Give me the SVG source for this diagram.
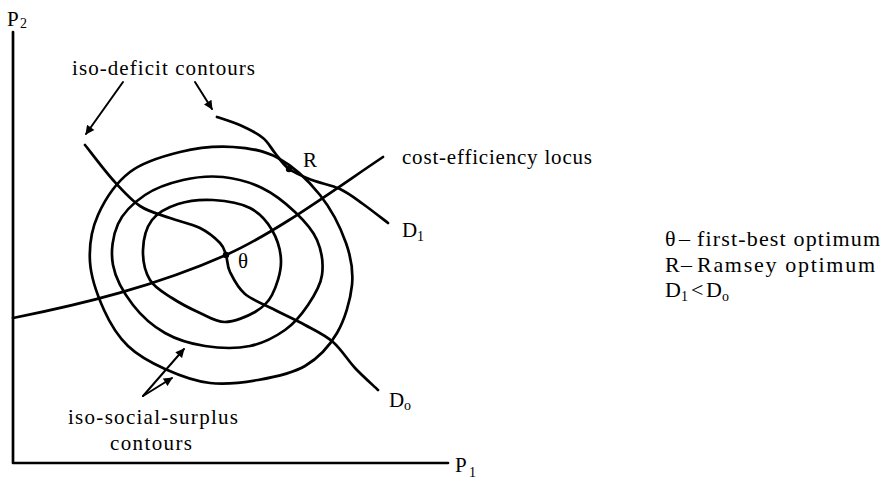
<svg xmlns="http://www.w3.org/2000/svg" width="887" height="485" viewBox="0 0 887 485">
<style>
.ln{fill:none;stroke:#000;stroke-width:2.7;stroke-linecap:round;stroke-linejoin:round}
.ar{fill:none;stroke:#000;stroke-width:2;stroke-linecap:round}
text{font-family:"Liberation Serif","Times New Roman",serif;font-size:21px;fill:#000}
.sub{font-size:14px}
.lg{font-size:22px}
</style>
<defs>
<marker id="ah" viewBox="0 0 10 10" refX="9" refY="5" markerWidth="10" markerHeight="9" markerUnits="userSpaceOnUse" orient="auto">
<path d="M0,0 L10,5 L0,10 Z" fill="#000"/>
</marker>
</defs>
<rect width="887" height="485" fill="#fff"/>
<g id="axes">
<path class="ln" d="M13,32 V463 H448"/>
<text x="7" y="26">P</text><text class="sub" x="20" y="28">2</text>
<text x="455" y="472">P</text><text class="sub" x="469" y="477">1</text>
</g>
<g id="social-surplus-contours">
<path id="outer" class="ln" d="M233,147 C249.3,148 263.5,150 278,158 C292.5,166 308.7,180.8 320,195 C331.3,209.2 340.7,228 346,243 C351.3,258 353.5,270 352,285 C350.5,300 344.8,319.5 337,333 C329.2,346.5 318.2,358.2 305,366 C291.8,373.8 273.8,377.2 258,380 C242.2,382.8 225.5,384.8 210,383 C194.5,381.2 178.7,375.2 165,369 C151.3,362.8 138.2,355.8 128,346 C117.8,336.2 110.3,324 104,310 C97.7,296 91,277.8 90,262 C89,246.2 91.3,230 98,215 C104.7,200 116.3,182.5 130,172 C143.7,161.5 162.8,156.2 180,152 C197.2,147.8 216.7,146 233,147 Z"/>
<path id="middle" class="ln" d="M223,177 C236.2,178.3 250,182.2 262,188 C274,193.8 285.8,203.3 295,212 C304.2,220.7 312.5,229.5 317,240 C321.5,250.5 323.5,264.2 322,275 C320.5,285.8 314.2,295.8 308,305 C301.8,314.2 294.7,323.2 285,330 C275.3,336.8 263.3,343.3 250,346 C236.7,348.7 219.2,348.2 205,346 C190.8,343.8 177,339.8 165,333 C153,326.2 141.7,316.3 133,305 C124.3,293.7 115.5,278.5 113,265 C110.5,251.5 112.7,235.7 118,224 C123.3,212.3 134.2,202.3 145,195 C155.8,187.7 170,183 183,180 C196,177 209.8,175.7 223,177 Z"/>
<path id="inner" class="ln" d="M213,200 C225,200.7 240.2,203 250,208 C259.8,213 266.8,221 272,230 C277.2,239 281,251.2 281,262 C281,272.8 276.3,286.7 272,295 C267.7,303.3 262.8,307.5 255,312 C247.2,316.5 234.2,321.8 225,322 C215.8,322.2 208.8,317 200,313 C191.2,309 180.3,303.5 172,298 C163.7,292.5 154.8,288 150,280 C145.2,272 142.7,260 143,250 C143.3,240 146.2,227.7 152,220 C157.8,212.3 167.8,207.3 178,204 C188.2,200.7 201,199.3 213,200 Z"/>
</g>
<g id="iso-deficit-curves">
<path id="D1-curve" class="ln" d="M217,117 C221.2,118.5 234.3,122.5 242,126 C249.7,129.5 257.5,133.5 263,138 C268.5,142.5 270.7,147.8 275,153 C279.3,158.2 282.8,164.5 289,169 C295.2,173.5 303.5,176.7 312,180 C320.5,183.3 331.5,185 340,189 C348.5,193 355,198.3 363,204 C371,209.7 383.8,219.8 388,223"/>
<path id="D0-curve" class="ln" d="M85,145 C89.7,150.8 103.8,169.8 113,180 C122.2,190.2 130.5,199.7 140,206 C149.5,212.3 160,214.3 170,218 C180,221.7 191.7,223.8 200,228 C208.3,232.2 215.7,238.5 220,243 C224.3,247.5 224.3,250.2 226,255 C227.7,259.8 226.8,265.5 230,272 C233.2,278.5 237.5,287.7 245,294 C252.5,300.3 265,304.8 275,310 C285,315.2 295.3,319.7 305,325 C314.7,330.3 324.7,334.8 333,342 C341.3,349.2 347.5,360 355,368 C362.5,376 374.2,386.3 378,390"/>
</g>
<g id="locus">
<path class="ln" d="M13,318 C83,304 156,286 226,255 C276,232.5 333,190.5 383,157"/>
</g>
<g id="points">
<circle cx="289" cy="169" r="3.2"/>
<circle cx="226" cy="255" r="3.2"/>
<text x="303" y="167">R</text>
<text x="238" y="268">θ</text>
</g>
<g id="labels">
<text x="72" y="75" textLength="183" lengthAdjust="spacing">iso-deficit contours</text>
<text x="402" y="164" textLength="190" lengthAdjust="spacing">cost-efficiency locus</text>
<text x="402" y="237">D</text><text class="sub" x="417" y="241">1</text>
<text x="389" y="407">D</text><text class="sub" x="404" y="410">o</text>
<text x="68" y="424" textLength="170" lengthAdjust="spacing">iso-social-surplus</text>
<text x="110" y="450" textLength="82" lengthAdjust="spacing">contours</text>
</g>
<g id="connectors">
<path class="ar" d="M123,82 L86,134" marker-end="url(#ah)"/>
<path class="ar" d="M195,82 L212,109" marker-end="url(#ah)"/>
<path class="ar" d="M143,396 L184,349" marker-end="url(#ah)"/>
<path class="ar" d="M143,396 L172,378" marker-end="url(#ah)"/>
</g>
<g id="legend">
<text class="lg" x="665" y="246">θ</text><text class="lg" x="679" y="246">–</text>
<text class="lg" x="697" y="246" textLength="183" lengthAdjust="spacing">first-best optimum</text>
<text class="lg" x="665" y="272">R</text><text class="lg" x="681" y="272">–</text>
<text class="lg" x="697" y="272" textLength="178" lengthAdjust="spacing">Ramsey optimum</text>
<text class="lg" x="665" y="297">D</text><text class="sub" x="681" y="301">1</text>
<text class="lg" x="691" y="297">&lt;</text>
<text class="lg" x="706" y="297">D</text><text class="sub" x="722" y="301">o</text>
</g>
</svg>
